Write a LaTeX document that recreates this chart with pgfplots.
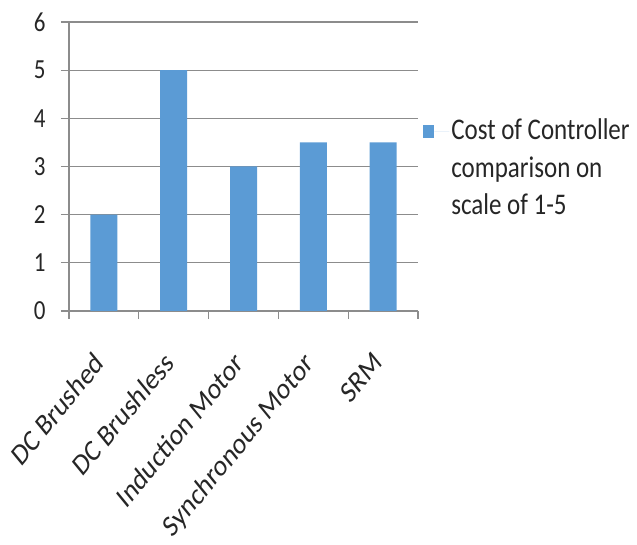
\documentclass[border=0pt]{standalone}
\usepackage{fontspec}
\setmainfont{Carlito}
\usepackage{pgfplots}
\pgfplotsset{compat=1.18}

\definecolor{barblue}{HTML}{5B9BD5}
\definecolor{gridgray}{HTML}{8C8C8C}

\begin{document}
\begin{tikzpicture}
\useasboundingbox (-69pt,-234pt) rectangle (568pt,311pt);
\begin{axis}[
  at={(0pt,0pt)}, anchor=south west,
  scale only axis,
  width=349pt, height=289pt,
  ybar, bar width=27pt,
  xmin=-0.5, xmax=4.5,
  ymin=0, ymax=6,
  ytick={0,...,6},
  xtick={0,...,4},
  xticklabels={DC Brushed, DC Brushless, Induction Motor, Synchronous Motor, SRM},
  minor xtick={-0.5,0.5,...,4.5},
  major x tick style={draw=none},
  minor tick length=8pt,
  major tick length=8pt,
  tick align=outside,
  xtick pos=bottom, ytick pos=left,
  axis x line*=bottom, axis y line*=left,
  axis line style={gridgray, line width=1.2pt},
  tick style={gridgray, line width=1.2pt},
  ymajorgrids,
  grid style={gridgray, line width=1.2pt},
  /pgf/number format/assume math mode=true,
  tick label style={font=\fontsize{23}{28}\selectfont, text=black!85},
  yticklabel style={yscale=1.2, xshift=-12pt},
  xticklabel style={font=\fontsize{25}{30}\selectfont, inner sep=0pt, anchor=north east, xshift=-11pt, yshift=-31pt, yscale=1.22, rotate=45},
  legend style={at={(1.006,0.68)}, anchor=north west, draw=none, fill=none,
    font=\fontsize{25}{31}\selectfont, text=black!85,
    nodes={yscale=1.2},
    cells={align=left}},
  % square swatch, followed by a blank gap before the entry text
  legend image code/.code={%
    \fill[barblue] (0pt,30pt) rectangle (11pt,43pt);
    \path (11pt,36pt) -- (26pt,36pt);},
]
\addplot[fill=barblue, draw=none] coordinates {(0,2) (1,5) (2,3) (3,3.5) (4,3.5)};
\addlegendentry{Cost of Controller\\comparison on\\scale of 1-5}
\end{axis}
\end{tikzpicture}
\end{document}
